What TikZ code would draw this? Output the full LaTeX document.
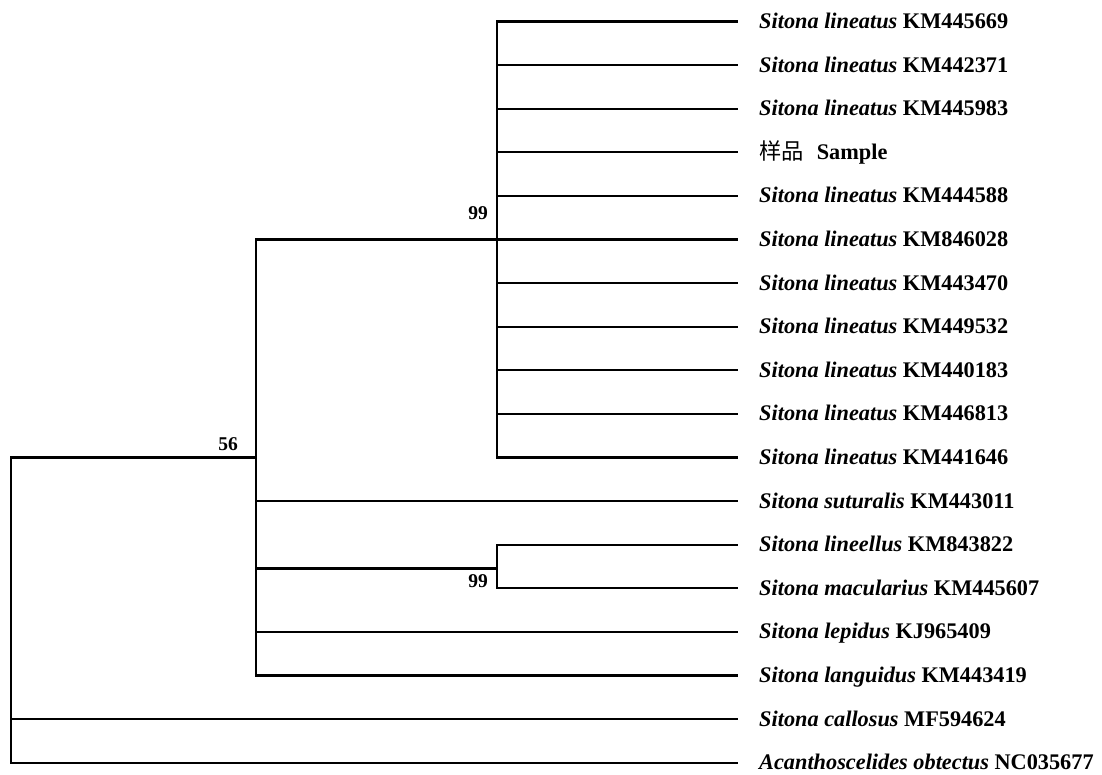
\documentclass[tikz,border=0pt]{standalone}
\usepackage{fontspec}
\setmainfont{Liberation Serif}[BoldItalicFont={Liberation Serif Bold Italic}]
\newfontfamily\cjk{Noto Sans CJK SC}
\newcommand{\spn}[1]{{\bfseries\itshape #1}}
\begin{document}
\begin{tikzpicture}[x=1pt,y=-1pt,
  br/.style={line width=2.2pt, line cap=rect},
  lab/.style={anchor=base west, inner sep=0pt, font=\fontsize{22.3}{25}\selectfont\bfseries},
  bs/.style={anchor=base east, inner sep=0pt, font=\fontsize{19.5}{22}\selectfont\bfseries}]
\useasboundingbox (0,0) rectangle (1102,774);
\foreach \i/\txt in {
  0/{\spn{Sitona lineatus} KM445669},
  1/{\spn{Sitona lineatus} KM442371},
  2/{\spn{Sitona lineatus} KM445983},
  3/{{\cjk\mdseries 样品}\hspace{13pt}Sample},
  4/{\spn{Sitona lineatus} KM444588},
  5/{\spn{Sitona lineatus} KM846028},
  6/{\spn{Sitona lineatus} KM443470},
  7/{\spn{Sitona lineatus} KM449532},
  8/{\spn{Sitona lineatus} KM440183},
  9/{\spn{Sitona lineatus} KM446813},
  10/{\spn{Sitona lineatus} KM441646},
  11/{\spn{Sitona suturalis} KM443011},
  12/{\spn{Sitona lineellus} KM843822},
  13/{\spn{Sitona macularius} KM445607},
  14/{\spn{Sitona lepidus} KJ965409},
  15/{\spn{Sitona languidus} KM443419},
  16/{\spn{Sitona callosus} MF594624},
  17/{\spn{Acanthoscelides obtectus} NC035677}}{
  \coordinate (t\i) at (737, 21.5+43.6*\i);
  \node[lab] (n\i) at (759, 28.5+43.6*\i) {\txt};
}
% internal nodes
\coordinate (root) at (11, 457.5);
\coordinate (c56) at (256, 457.5);
\coordinate (c99a) at (497, 239.5);
\coordinate (c99b) at (497, 568.5);
% clade 99a
\draw[br] (c99a |- t0) -- (c99a |- t10);
\foreach \i in {0,...,10}{\draw[br] (c99a |- t\i) -- (t\i);}
% clade 56
\draw[br] (c56 |- c99a) -- (c56 |- t15);
\draw[br] (c56 |- c99a) -- (c99a);
\draw[br] (c56 |- t11) -- (t11);
\draw[br] (c56 |- c99b) -- (c99b);
\draw[br] (c56 |- t14) -- (t14);
\draw[br] (c56 |- t15) -- (t15);
% clade 99b
\draw[br] (c99b |- t12) -- (c99b |- t13);
\draw[br] (c99b |- t12) -- (t12);
\draw[br] (c99b |- t13) -- (t13);
% root
\draw[br] (root) -- (root |- t17);
\draw[br] (root) -- (c56);
\draw[br] (root |- t16) -- (t16);
\draw[br] (root |- t17) -- (t17);
% bootstrap values
\node[bs] (b99a) at (488, 219) {99};
\node[bs] (b56) at (238, 450) {56};
\node[bs] (b99b) at (488, 587) {99};
\end{tikzpicture}
\end{document}
